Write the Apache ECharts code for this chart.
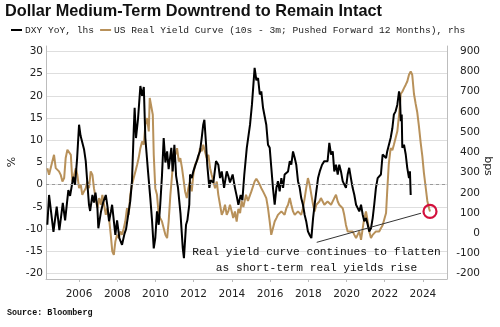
<!DOCTYPE html>
<html><head><meta charset="utf-8">
<script src="https://cdn.jsdelivr.net/npm/echarts@6/dist/echarts.min.js"></script>
<style>html,body{margin:0;padding:0;background:#fff}#c{width:500px;height:327px}</style>
</head><body><div id="c"></div>
<script>
const titleText = 'Dollar Medium-Term Downtrend to Remain Intact';
const seriesNames = ['DXY YoY, lhs', 'US Real Yield Curve (10s - 3m; Pushed Forward 12 Months), rhs'];
const yearTicks = [2006, 2008, 2010, 2012, 2014, 2016, 2018, 2020, 2022, 2024];
const leftTicks = [-20, -15, -10, -5, 0, 5, 10, 15, 20, 25, 30];
const rightTicks = [-200, -100, 0, 100, 200, 300, 400, 500, 600, 700, 800, 900];

// DXY YoY (%), [decimal year, value]
const dxyYoY = [
[2004.34,-9.0],[2004.43,-2.3],[2004.66,-10.6],[2004.83,-4.9],[2004.97,-10.2],[2005.15,-4.1],[2005.27,-8.0],
[2005.44,-1.2],[2005.53,-2.5],[2005.70,1.8],[2005.79,0],[2005.90,6],[2006.00,13.5],[2006.08,11],[2006.17,11.3],
[2006.26,8],[2006.35,5.3],[2006.44,0],[2006.52,-4.5],[2006.58,-5.9],[2006.70,-2.3],[2006.78,-4],[2006.86,-1.8],
[2006.96,-5.2],[2007.01,-9.8],[2007.15,-6],[2007.26,-4],[2007.40,-2.3],[2007.49,-5],[2007.57,-8.2],[2007.67,-6],
[2007.73,-4.5],[2007.90,-11.3],[2007.99,-8],[2008.11,-12],[2008.25,-13.5],[2008.38,-11],[2008.46,-10],
[2008.68,-3.7],[2008.77,0.8],[2008.86,12],[2008.91,17.3],[2008.98,10.5],[2009.09,15],[2009.21,22.2],[2009.30,20],
[2009.39,22],[2009.47,10.5],[2009.61,3],[2009.73,-3],[2009.82,-8],[2009.91,-14.3],[2009.99,-12],[2010.08,-6],
[2010.17,-9],[2010.25,-4.5],[2010.34,2],[2010.43,10.5],[2010.52,5],[2010.61,7.5],[2010.69,3.5],[2010.83,8.3],
[2010.90,3],[2010.99,9],[2011.08,2],[2011.18,-0.7],[2011.31,-6.5],[2011.43,-14.3],[2011.49,-16.5],[2011.60,-9],
[2011.67,-8],[2011.77,-4.5],[2011.81,2.3],[2011.90,1.5],[2011.98,3],[2012.16,5.3],[2012.24,6.5],[2012.33,7.5],
[2012.42,10.5],[2012.50,13.5],[2012.56,14.6],[2012.65,9],[2012.71,4.5],[2012.82,-0.7],[2012.89,1],[2013.03,0.5],
[2013.17,5.3],[2013.29,4.5],[2013.38,1.5],[2013.47,3],[2013.59,-0.7],[2013.73,3],[2013.81,2],[2013.90,0.5],
[2014.04,2.3],[2014.16,-0.7],[2014.25,-2.5],[2014.34,-4.5],[2014.46,-2.3],[2014.55,-3.5],[2014.65,2.3],
[2014.78,8.3],[2014.95,13.5],[2015.05,18],[2015.19,26.3],[2015.28,23.5],[2015.37,24],[2015.46,20.3],[2015.54,21],
[2015.63,17.3],[2015.80,13.5],[2015.89,9],[2015.98,8.3],[2016.06,4],[2016.15,-0.7],[2016.24,-4.5],[2016.33,-0.7],
[2016.41,0.8],[2016.50,-1.5],[2016.59,1.5],[2016.68,-0.7],[2016.76,2.3],[2016.94,3],[2017.03,5.3],[2017.11,4.5],
[2017.20,7.5],[2017.29,6],[2017.37,4.5],[2017.46,0.8],[2017.55,-0.7],[2017.63,-3],[2017.72,-4.5],[2017.81,-6.8],
[2017.89,-8.2],[2017.98,-10.5],[2018.07,-11.3],[2018.16,-12],[2018.25,-7.5],[2018.33,-4.5],[2018.42,-1.5],
[2018.51,1.5],[2018.60,3],[2018.72,4.5],[2018.84,5.3],[2019.01,5.3],[2019.10,9.4],[2019.19,6.8],[2019.28,7.5],
[2019.36,3],[2019.45,4.5],[2019.54,2.3],[2019.62,4.5],[2019.71,3],[2019.80,0.8],[2019.97,-0.7],[2020.06,2.3],
[2020.14,3.8],[2020.23,1.5],[2020.32,-0.7],[2020.41,-2.3],[2020.50,-4.5],[2020.67,-6],[2020.76,-4.5],
[2020.85,-6.8],[2020.93,-8.2],[2021.02,-7.5],[2021.11,-9],[2021.19,-10.5],[2021.28,-9.8],[2021.37,-7.5],
[2021.45,-4.5],[2021.54,-0.7],[2021.63,1.5],[2021.71,1.5],[2021.80,2.3],[2021.89,6.8],[2021.98,7],[2022.07,6],
[2022.13,7.5],[2022.22,7.5],[2022.31,10.5],[2022.40,12.7],[2022.48,15.8],[2022.57,16.5],[2022.66,18],
[2022.75,21],[2022.80,19.5],[2022.84,14.3],[2022.89,15.8],[2022.92,8.3],[2023.01,9],[2023.10,6.8],[2023.18,3.8],
[2023.27,1.5],[2023.32,3],[2023.36,-2.3]
];

// US real yield curve (bps), [decimal year, value]
const realYieldCurve = [
[2004.34,322],[2004.43,289],[2004.60,355],[2004.69,388],[2004.78,322],[2004.95,306],[2005.04,289],[2005.13,256],
[2005.22,273],[2005.30,372],[2005.39,413],[2005.48,405],[2005.57,388],[2005.65,256],[2005.74,289],[2005.83,322],
[2005.91,289],[2006.00,223],[2006.09,240],[2006.17,190],[2006.26,207],[2006.35,223],[2006.43,256],[2006.52,223],
[2006.61,306],[2006.70,289],[2006.78,223],[2006.87,174],[2006.96,124],[2007.05,174],[2007.14,141],[2007.22,190],
[2007.31,141],[2007.40,91],[2007.48,124],[2007.57,75],[2007.66,-8],[2007.74,-90],[2007.82,-107],[2007.90,-41],
[2007.99,-8],[2008.08,-24],[2008.16,9],[2008.25,-8],[2008.34,25],[2008.42,58],[2008.51,124],[2008.60,91],
[2008.68,190],[2008.77,240],[2008.86,273],[2008.95,306],[2009.04,339],[2009.12,372],[2009.21,421],[2009.30,454],
[2009.39,438],[2009.47,537],[2009.56,570],[2009.65,504],[2009.70,669],[2009.78,677],[2009.86,586],[2009.91,388],
[2009.99,223],[2010.08,190],[2010.17,91],[2010.25,75],[2010.34,58],[2010.43,25],[2010.52,-8],[2010.61,-24],
[2010.69,58],[2010.78,190],[2010.87,289],[2010.96,405],[2011.04,388],[2011.13,421],[2011.22,355],[2011.30,372],
[2011.39,322],[2011.46,273],[2011.55,207],[2011.64,174],[2011.72,223],[2011.81,256],[2011.90,207],[2011.98,289],
[2012.07,339],[2012.16,355],[2012.24,372],[2012.33,421],[2012.42,405],[2012.50,438],[2012.59,405],[2012.68,372],
[2012.77,388],[2012.86,322],[2012.94,289],[2013.03,256],[2013.12,223],[2013.21,256],[2013.29,190],[2013.38,141],
[2013.47,91],[2013.55,108],[2013.64,141],[2013.73,91],[2013.81,108],[2013.90,141],[2013.99,108],[2014.07,75],
[2014.16,108],[2014.25,58],[2014.34,120],[2014.43,100],[2014.51,160],[2014.60,130],[2014.74,190],[2014.84,160],
[2015.02,207],[2015.19,256],[2015.28,270],[2015.37,256],[2015.46,240],[2015.54,223],[2015.63,207],[2015.72,190],
[2015.80,174],[2015.89,124],[2015.98,58],[2016.06,-8],[2016.15,25],[2016.24,58],[2016.33,75],[2016.41,91],
[2016.59,108],[2016.76,91],[2016.85,124],[2016.94,141],[2017.03,174],[2017.11,141],[2017.20,108],[2017.29,91],
[2017.46,108],[2017.63,91],[2017.72,124],[2017.81,174],[2017.89,223],[2017.98,273],[2018.07,240],[2018.16,190],
[2018.25,141],[2018.33,108],[2018.42,141],[2018.58,157],[2018.66,174],[2018.84,141],[2019.01,157],[2019.19,141],
[2019.36,174],[2019.45,190],[2019.54,157],[2019.62,141],[2019.80,124],[2019.88,91],[2019.97,41],[2020.06,9],
[2020.14,17],[2020.32,9],[2020.41,-8],[2020.50,-24],[2020.58,-8],[2020.67,9],[2020.76,-33],[2020.85,25],
[2020.93,75],[2021.02,108],[2021.11,58],[2021.19,9],[2021.28,-24],[2021.37,-8],[2021.54,9],[2021.71,9],
[2021.80,25],[2021.89,40],[2021.96,40],[2022.07,100],[2022.13,207],[2022.21,339],[2022.31,421],[2022.40,411],
[2022.48,438],[2022.57,471],[2022.66,504],[2022.75,586],[2022.84,690],[2022.92,700],[2023.01,718],[2023.10,735],
[2023.18,751],[2023.27,784],[2023.36,800],[2023.44,784],[2023.53,690],[2023.62,640],[2023.70,600],[2023.79,530],
[2023.88,450],[2023.97,380],[2024.05,300],[2024.14,230],[2024.23,160],[2024.32,124],[2024.37,108]
];

const annotationLines = ['Real yield curve continues to flatten', 'as short-term real yields rise'];
const annotationArrow = [[2018.44, -45], [2023.90, 99]];
const sourceText = 'Source: Bloomberg';

const chart = echarts.init(document.getElementById('c'), null, {renderer: 'canvas'});
const lastPt = realYieldCurve[realYieldCurve.length - 1];
const mono = 'Liberation Mono, DejaVu Sans Mono, monospace';
const sans = 'DejaVu Sans, Verdana, sans-serif';

chart.setOption({
  animation: false,
  backgroundColor: '#fff',
  title: {
    text: titleText, left: 0, top: -1,
    textStyle: {fontFamily: 'Liberation Sans, Arial, sans-serif', fontWeight: 'bold', fontSize: 16.3, color: '#111'}
  },
  legend: {
    left: 6, top: 20, itemGap: 6, itemWidth: 11, itemHeight: 2,
    icon: 'rect',
    textStyle: {fontFamily: mono, fontSize: 9.6, color: '#222', padding: [0,0,0,-2]},
    data: seriesNames
  },
  grid: {left: 46, right: 53, top: 46, bottom: 48, containLabel: false},
  xAxis: {
    type: 'value', min: 2004.27, max: 2025.26,
    axisLine: {show: true, onZero: false, lineStyle: {color: '#bdbdbd', width: 1}},
    axisTick: {show: true, length: 3, customValues: yearTicks, lineStyle: {color: '#bdbdbd'}},
    axisLabel: {customValues: yearTicks, formatter: v => String(Math.round(v)), fontFamily: sans, fontSize: 10.5, color: '#222', margin: 10},
    splitLine: {show: false}
  },
  yAxis: [{
    type: 'value', min: -21.2, max: 31.2, position: 'left',
    axisLine: {show: true, onZero: false, lineStyle: {color: '#bdbdbd'}},
    axisTick: {show: false, customValues: leftTicks},
    axisLabel: {customValues: leftTicks, fontFamily: sans, fontSize: 10.5, color: '#222', margin: 3},
    splitLine: {show: true, lineStyle: {color: '#dedede', width: 1}}
  }, {
    type: 'value', min: -226.4, max: 926.4, position: 'right',
    axisLine: {show: true, onZero: false, lineStyle: {color: '#bdbdbd'}},
    axisTick: {show: false, customValues: rightTicks},
    axisLabel: {customValues: rightTicks, fontFamily: sans, fontSize: 10.5, color: '#222', margin: 33, align: 'right'},
    splitLine: {show: false}
  }],
  series: [{
    name: seriesNames[1], type: 'line', yAxisIndex: 1, data: realYieldCurve,
    showSymbol: false, symbol: 'none', color: '#b8915a',
    lineStyle: {width: 2, color: '#b8915a'}, z: 2,
    markLine: {
      silent: true, symbol: ['none', 'none'], animation: false,
      lineStyle: {color: '#333', width: 1, type: 'solid'},
      label: {show: false},
      data: [[{coord: annotationArrow[0]}, {coord: annotationArrow[1]}]]
    },
    markPoint: {
      silent: true, animation: false,
      symbol: 'circle', symbolSize: 13,
      itemStyle: {color: 'rgba(255,255,255,0)', borderColor: '#d3103c', borderWidth: 2.2},
      label: {show: false},
      data: [{coord: lastPt}]
    }
  }, {
    name: seriesNames[0], type: 'line', yAxisIndex: 0, data: dxyYoY,
    showSymbol: false, symbol: 'none', color: '#000',
    lineStyle: {width: 2, color: '#000'}, z: 3,
    markLine: {
      silent: true, symbol: ['none', 'none'], animation: false,
      lineStyle: {color: '#9a9a9a', width: 1, type: [3, 3]},
      label: {show: false},
      data: [{yAxis: 0}]
    }
  }],
  graphic: [
    {type: 'text', z: 10, style: {x: 316.5, y: 252.5, text: annotationLines[0], font: '11.2px ' + mono, fill: '#111', textAlign: 'center', textVerticalAlign: 'middle'}},
    {type: 'text', z: 10, style: {x: 316.5, y: 268.5, text: annotationLines[1], font: '11.2px ' + mono, fill: '#111', textAlign: 'center', textVerticalAlign: 'middle'}},
    {type: 'text', style: {x: 0, y: 0, text: '%', font: '11px ' + sans, fill: '#222', textAlign: 'center', textVerticalAlign: 'middle'}, rotation: Math.PI / 2, x: 12, y: 162},
    {type: 'text', style: {x: 0, y: 0, text: 'bps', font: '11px ' + sans, fill: '#222', textAlign: 'center', textVerticalAlign: 'middle'}, rotation: -Math.PI / 2, x: 488, y: 166},
    {type: 'text', style: {x: 7, y: 313, text: sourceText, font: 'bold 8.4px ' + mono, fill: '#111', textVerticalAlign: 'middle'}}
  ]
});
</script></body></html>
